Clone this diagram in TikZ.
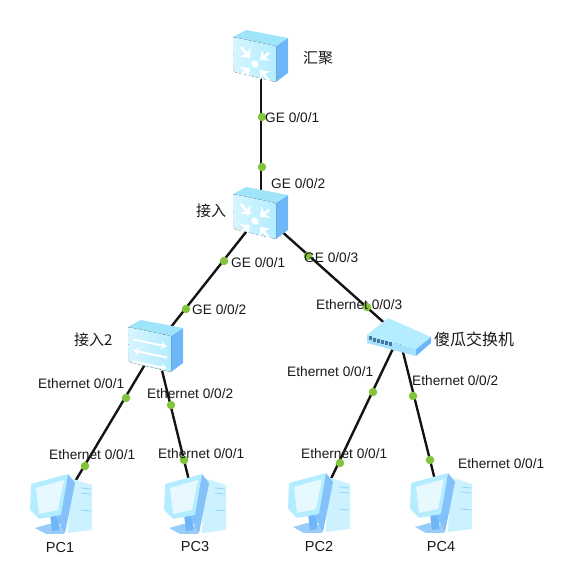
\documentclass[tikz,border=0pt]{standalone}
\usepackage{fontspec}
\setsansfont{Liberation Sans}
\newfontfamily\cjkfont{Noto Sans CJK SC}
\usetikzlibrary{arrows.meta,positioning}
\definecolor{swfront}{HTML}{B4EDFF}
\definecolor{swtop}{HTML}{A0E4FA}
\definecolor{swside}{HTML}{6DB6F7}
\definecolor{pcpale}{HTML}{D6F4FF}
\definecolor{portgreen}{HTML}{82C43C}
\tikzset{
  devnode/.style={inner sep=0pt, minimum size=1pt},
  linkline/.style={line width=2.4pt, black!92},
  portdot/.style={circle, fill=portgreen, inner sep=0pt, minimum size=8.5pt},
  portlabel/.style={anchor=west, inner sep=0pt, text=black!90, font=\sffamily\fontsize{13.7}{14}\selectfont},
  cnlabel/.style={anchor=west, inner sep=0pt, text=black!90, font=\cjkfont\fontsize{15}{16}\selectfont},
  pclabel/.style={inner sep=0pt, text=black!90, font=\sffamily\fontsize{14.5}{15}\selectfont},
  swarrow/.style={white, line width=2.6pt, -{Stealth[length=8pt, width=14pt]}},
  flatarrow/.style={white, line width=2pt, -{Stealth[length=6pt, width=8pt]}}
}
% box shared by the two switch kinds
\newcommand{\swbox}{%
  \fill[swside] (15,-10) -- (27,-18) -- (27,17) -- (15,26) -- cycle;
  \fill[swtop] (-28,-19) -- (-15,-26) -- (27,-18) -- (15,-10) -- cycle;
  \fill[left color=swfront!55!white, right color=swfront, rounded corners=1pt] (-28,-19) -- (15,-10) -- (15,26) -- (-27,16) -- cycle;
}
\newcommand{\coreswitch}[1]{%
  \begin{scope}[shift={(#1)}]
    \swbox
    \begin{scope}[shift={(-6,8)}, yslant=-0.21]
      \foreach \a in {45,135,225,315}
        \draw[swarrow, rotate=\a] (20,0) -- (7,0);
      \fill[white] (0,0) circle (3.6pt);
    \end{scope}
  \end{scope}
}
\newcommand{\flatswitch}[1]{%
  \begin{scope}[shift={(#1)}]
    \swbox
    \begin{scope}[shift={(-6,8)}, yslant=-0.21]
      \draw[flatarrow] (-17,-11) -- (17,-11);
      \draw[flatarrow] (17,0) -- (-17,0);
      \draw[flatarrow] (-17,11) -- (17,11);
    \end{scope}
  \end{scope}
}
\newcommand{\hubicon}[1]{%
  \begin{scope}[shift={(#1)}]
    \fill[swfront!80!swside] (-32,-1) -- (17,13) -- (17,20) -- (-32,7) -- cycle;
    \fill[swside] (17,13) -- (32,1) -- (32,7) -- (17,20) -- cycle;
    \fill[swfront] (-32,-1) -- (-11,-18) -- (32,1) -- (17,13) -- cycle;
    \foreach \p in {0,...,5}
      \fill[swside!65!black] ({-30+\p*4},{0.5+\p*1.2}) rectangle ++(3.2,4);
  \end{scope}
}
\newcommand{\pcicon}[1]{%
  \begin{scope}[shift={(#1)}]
    % tower
    \fill[pcpale!70!swfront] (9,-27) -- (31,-20) -- (31,25) -- (7,28) -- cycle;
    \foreach \y in {-17,-12,5}
      \draw[swtop!70!swside, line width=.8pt] (20,\y) -- (30,{\y+1});
    % stand
    \fill[swside!70!white] (-26,23) -- (-12,19) -- (5,22) -- (3,29) -- (-15,29) -- cycle;
    \fill[swside] (-11,10) -- (-1,9) -- (-2,25) -- (-9,26) -- cycle;
    % monitor
    \fill[swside!85!white] (7,-31) -- (14,-22) -- (4,28) -- (-5,12) -- cycle;
    \fill[swfront, rounded corners=1pt] (-30,-21) -- (7,-31) -- (0,10) -- (-22,14) -- (-31,5) -- cycle;
    \fill[pcpale!60!white] (-25,-17) -- (3,-25) -- (-3,5) -- (-22,9) -- cycle;
  \end{scope}
}

\begin{document}
\begin{tikzpicture}[x=1pt, y=-1pt]
  \useasboundingbox (0,0) rectangle (582,580);

  % 1. Device anchors
  \node[devnode] (huiju) at (261,56) {};
  \node[devnode] (jieru) at (261,213) {};
  \node[devnode] (jieru2) at (156,346) {};
  \node[devnode] (hub) at (399,336) {};
  \node[devnode] (pc1) at (61,505) {};
  \node[devnode] (pc3) at (195,505) {};
  \node[devnode] (pc2) at (319,504) {};
  \node[devnode] (pc4) at (441,504) {};

  % 2. Links
  \draw[linkline] (huiju) -- (jieru);
  \draw[linkline] (jieru) -- (jieru2);
  \draw[linkline] (jieru) -- (hub);
  \draw[linkline] (jieru2) -- (pc1);
  \draw[linkline] (jieru2) -- (pc3);
  \draw[linkline] (hub) -- (pc2);
  \draw[linkline] (hub) -- (pc4);

  % 3. Device icons
  \coreswitch{huiju}
  \coreswitch{jieru}
  \flatswitch{jieru2}
  \hubicon{hub}
  \foreach \n in {pc1,pc2,pc3,pc4} {\pcicon{\n}}

  % 4. Port dots
  \foreach \i/\x/\y in {1/262/117, 2/262/167, 3/224/261, 4/186/309, 5/308/256, 6/367/307,
                        7/126/398, 8/85/466, 9/171/405, 10/184/460,
                        11/373/392, 12/340/463, 13/413/396, 14/430/460}
    \node[portdot] (dot\i) at (\x,\y) {};

  % 5. Port labels
  \node[portlabel] (ge1) at (265,118) {GE 0/0/1};
  \node[portlabel] (ge2) at (271,184) {GE 0/0/2};
  \node[portlabel] (ge3) at (231,263) {GE 0/0/1};
  \node[portlabel] (ge4) at (304,258) {GE 0/0/3};
  \node[portlabel] (ge5) at (192,310) {GE 0/0/2};
  \node[portlabel] (eth1) at (316,305) {Ethernet 0/0/3};
  \node[portlabel] (eth2) at (38,384) {Ethernet 0/0/1};
  \node[portlabel] (eth3) at (147,394) {Ethernet 0/0/2};
  \node[portlabel] (eth4) at (49,455) {Ethernet 0/0/1};
  \node[portlabel] (eth5) at (158,454) {Ethernet 0/0/1};
  \node[portlabel] (eth6) at (287,372) {Ethernet 0/0/1};
  \node[portlabel] (eth7) at (412,381) {Ethernet 0/0/2};
  \node[portlabel] (eth8) at (301,454) {Ethernet 0/0/1};
  \node[portlabel] (eth9) at (458,464) {Ethernet 0/0/1};

  % 6. Device names
  \node[cnlabel] (lbhuiju) at (303,58) {汇聚};
  \node[cnlabel] (lbjieru) at (196,211) {接入};
  \node[cnlabel] (lbjieru2) at (74,340) {接入2};
  \node[cnlabel, font=\cjkfont\fontsize{16}{17}\selectfont] (lbhub) at (434,339) {傻瓜交换机};
  \node[pclabel] (lbpc1) at (60,548) {PC1};
  \node[pclabel] (lbpc3) at (195,547) {PC3};
  \node[pclabel] (lbpc2) at (319,547) {PC2};
  \node[pclabel] (lbpc4) at (441,547) {PC4};
\end{tikzpicture}
\end{document}
